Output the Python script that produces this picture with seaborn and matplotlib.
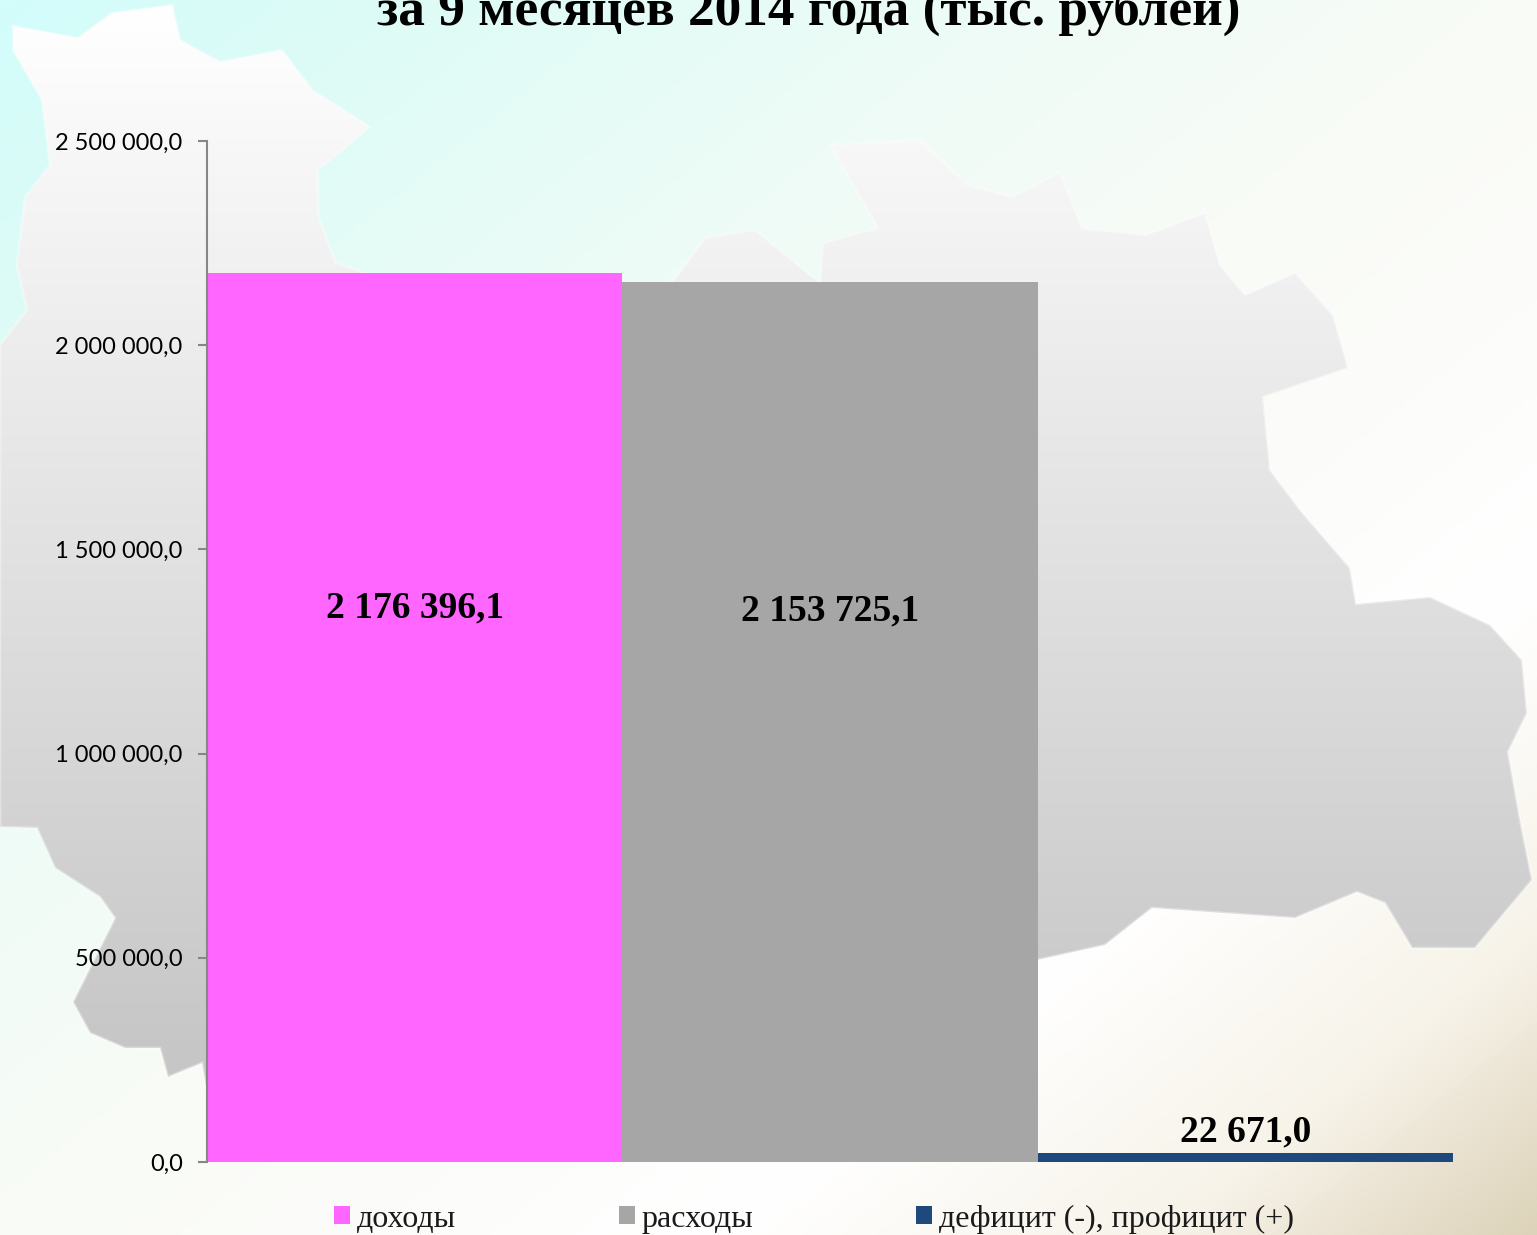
# Budget chart: income, expenses, deficit/surplus for 9 months of 2014
import numpy as np
import pandas as pd
import matplotlib
matplotlib.use("Agg")
import matplotlib.pyplot as plt
from matplotlib.colors import LinearSegmentedColormap
from matplotlib.patches import Polygon
import seaborn as sns

# ================================
# Data
# ================================
categories = ["доходы", "расходы", "дефицит (-), профицит (+)"]
values = [2176396.1, 2153725.1, 22671.0]
bar_colors = ["#FF66FF", "#A6A6A6", "#1F497D"]
y_ticks = [0, 500000, 1000000, 1500000, 2000000, 2500000]
title = "за 9 месяцев 2014 года (тыс. рублей)"

W, H = 1537, 1235

# decorative region outline behind the chart, in picture pixels
map_outline = [
    (13, 26), (78, 38), (112, 13), (172, 5), (180, 40), (220, 62), (282, 50),
    (312, 90), (370, 127), (318, 170), (318, 215), (335, 262), (370, 275),
    (660, 300), (678, 275), (705, 238), (755, 230), (820, 283), (823, 243),
    (878, 228), (830, 145), (920, 140), (968, 185), (1012, 197), (1060, 172),
    (1082, 228), (1145, 235), (1205, 213), (1220, 265), (1245, 295),
    (1295, 273), (1333, 315), (1348, 368), (1263, 397), (1270, 470),
    (1300, 510), (1350, 568), (1356, 604), (1430, 597), (1490, 625),
    (1522, 660), (1527, 713), (1508, 752), (1520, 820), (1532, 880),
    (1475, 948), (1412, 948), (1385, 903), (1357, 892), (1295, 918),
    (1152, 908), (1105, 945), (1037, 960), (600, 1000), (207, 1092),
    (202, 1063), (168, 1077), (160, 1048), (125, 1048), (90, 1033), (73, 1002),
    (115, 918), (100, 897), (55, 868), (37, 828), (0, 827), (0, 345), (27, 310),
    (17, 265), (25, 197), (50, 165), (42, 100), (13, 50),
]

sns.set_theme(style="white")
fig = plt.figure(figsize=(W / 100, H / 100), dpi=100)

# ================================
# Background
# ================================
bg = fig.add_axes([0, 0, 1, 1], zorder=0)
bg.set_xlim(0, W)
bg.set_ylim(H, 0)
bg.axis("off")

xx, yy = np.meshgrid(np.linspace(0, 1, 400), np.linspace(0, 1, 400))
bg_cmap = LinearSegmentedColormap.from_list("bg", [
    (0.0, "#D2FDFB"), (0.12, "#DDFBF6"), (0.34, "#EFFCF6"), (0.5, "#F9FBF6"),
    (0.74, "#FFFFFF"), (0.88, "#F7F3E9"), (1.0, "#DDD3BA"),
])
bg.imshow((xx + yy) / 2, cmap=bg_cmap, vmin=0, vmax=1, extent=(0, W, H, 0),
          aspect="auto", zorder=0)

map_cmap = LinearSegmentedColormap.from_list("map", ["#FEFEFE", "#C6C6C6"])
map_img = bg.imshow(yy, cmap=map_cmap, vmin=0.02, vmax=0.86, extent=(0, W, H, 0),
                    aspect="auto", zorder=1)
map_clip = Polygon(map_outline, closed=True, transform=bg.transData)
map_img.set_clip_path(map_clip)
bg.add_patch(Polygon(map_outline, closed=True, fill=False, edgecolor="white",
                     alpha=0.35, lw=2, zorder=2))

# ================================
# Chart
# ================================
ax = fig.add_axes([207 / W, (H - 1162) / H, (1453 - 207) / W, (1162 - 141) / H], zorder=1)
ax.patch.set_alpha(0)

df = pd.DataFrame({"category": categories, "value": values})
sns.barplot(data=df, x="category", y="value", hue="category",
            palette=dict(zip(categories, bar_colors)), hue_order=categories,
            width=1, dodge=False, saturation=1, legend=True, linewidth=0, ax=ax)

ax.set_xlim(-0.5, 2.5)
ax.set_ylim(0, 2500000)
ax.set_xlabel("")
ax.set_ylabel("")
ax.set_xticks([])
ax.set_yticks(y_ticks)
ax.set_yticklabels([f"{v:,.1f}".replace(",", " ").replace(".", ",") for v in y_ticks],
                   family="Lato", fontsize=17, color="black")
ax.tick_params(axis="y", left=True, length=6.5, width=1.5, color="#868686", pad=11)

sns.despine(ax=ax, bottom=True)
ax.spines["left"].set_color("#868686")
ax.spines["left"].set_linewidth(1.5)

# value labels
for i, v in enumerate(values):
    label = f"{v:,.1f}".replace(",", " ").replace(".", ",")
    if v > 100000:
        # labels sit a little above the middle of the tall bars
        ax.text(i, v * (0.6235 if i == 0 else 0.627), label, ha="center", va="center",
                family="Liberation Serif", fontweight="bold", fontsize=27, color="black")
    else:
        ax.annotate(label, (i, v), xytext=(0, 2), textcoords="offset points", ha="center",
                    va="bottom", family="Liberation Serif", fontweight="bold",
                    fontsize=27, color="black")

# legend under the plot
handles, labels = ax.get_legend_handles_labels()
ax.get_legend().remove()
fig.legend(handles, labels, ncol=3, loc="center left",
           bbox_to_anchor=(305 / W, (H - 1219) / H), frameon=False,
           prop={"family": "Liberation Serif", "size": 23},
           handlelength=0.5, handleheight=0.5, handletextpad=0.22,
           columnspacing=5.1, labelcolor="#1a1a1a")

# title runs off the top edge, as in the original slide
fig.text(809 / W, (H - 11) / H, title, ha="center", va="center",
         family="Liberation Serif", fontweight="bold", fontsize=38.3, color="black")

fig.savefig("out.png", dpi=100)
